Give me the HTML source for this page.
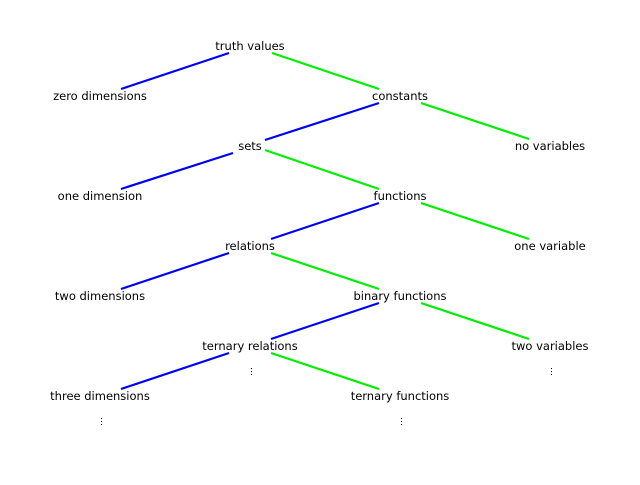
<!DOCTYPE html>
<html><head><style>
html,body{margin:0;padding:0;background:#fff;}
svg text{font-family:"DejaVu Sans","Liberation Sans",sans-serif;font-size:11.5px;fill:#000;text-anchor:middle;}
</style></head><body>
<svg width="640" height="480" viewBox="0 0 640 480" xmlns="http://www.w3.org/2000/svg">
<g stroke-width="2.2" fill="none">
<line x1="229" y1="53" x2="121" y2="89" stroke="#0000ee"/>
<line x1="272" y1="53" x2="379" y2="89" stroke="#00ee00"/>
<line x1="379" y1="103" x2="265" y2="140" stroke="#0000ee"/>
<line x1="421" y1="103" x2="529" y2="139" stroke="#00ee00"/>
<line x1="233" y1="153" x2="121" y2="189" stroke="#0000ee"/>
<line x1="265" y1="150" x2="379" y2="189" stroke="#00ee00"/>
<line x1="379" y1="203" x2="271" y2="239" stroke="#0000ee"/>
<line x1="421" y1="203" x2="529" y2="239" stroke="#00ee00"/>
<line x1="229" y1="253" x2="121" y2="289" stroke="#0000ee"/>
<line x1="271" y1="253" x2="379" y2="289" stroke="#00ee00"/>
<line x1="379" y1="303" x2="271" y2="339" stroke="#0000ee"/>
<line x1="421" y1="303" x2="529" y2="339" stroke="#00ee00"/>
<line x1="229" y1="353" x2="121" y2="389" stroke="#0000ee"/>
<line x1="271" y1="353" x2="379" y2="389" stroke="#00ee00"/>
</g>
<text x="250" y="50">truth values</text>
<text x="100" y="100">zero dimensions</text>
<text x="400" y="100">constants</text>
<text x="250" y="150">sets</text>
<text x="550" y="150">no variables</text>
<text x="100" y="200">one dimension</text>
<text x="400" y="200">functions</text>
<text x="250" y="250">relations</text>
<text x="550" y="250">one variable</text>
<text x="100" y="300">two dimensions</text>
<text x="400" y="300">binary functions</text>
<text x="250" y="350">ternary relations</text>
<text x="550" y="350">two variables</text>
<text x="100" y="400">three dimensions</text>
<text x="400" y="400">ternary functions</text>
<g fill="#000">
<rect x="251" y="368" width="1" height="1"/><rect x="251" y="371" width="1" height="1"/><rect x="251" y="374" width="1" height="1"/>
<rect x="551" y="368" width="1" height="1"/><rect x="551" y="371" width="1" height="1"/><rect x="551" y="374" width="1" height="1"/>
<rect x="101" y="418" width="1" height="1"/><rect x="101" y="421" width="1" height="1"/><rect x="101" y="424" width="1" height="1"/>
<rect x="401" y="418" width="1" height="1"/><rect x="401" y="421" width="1" height="1"/><rect x="401" y="424" width="1" height="1"/>
</g>
</svg>
</body></html>
